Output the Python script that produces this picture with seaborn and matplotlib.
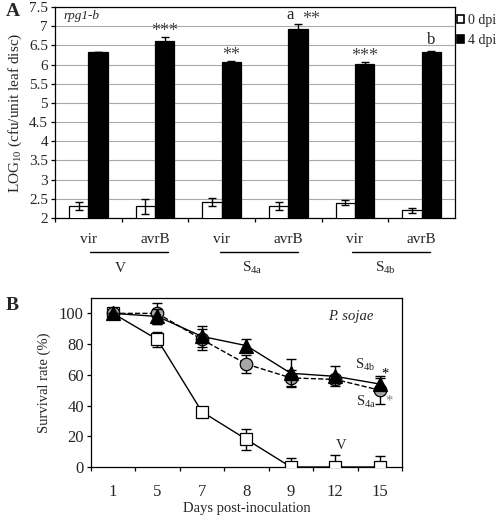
import numpy as np
import pandas as pd
import matplotlib
matplotlib.use('Agg')
import matplotlib.pyplot as plt
import matplotlib.transforms as mtrans
from matplotlib.patches import Patch
from matplotlib.ticker import FixedLocator, FuncFormatter, NullFormatter, FixedFormatter
import seaborn as sns

# ---------------- data ----------------
strains = ['vir', 'avrB', 'vir', 'avrB', 'vir', 'avrB']
cat_ids = ['V-vir', 'V-avrB', 'S4a-vir', 'S4a-avrB', 'S4b-vir', 'S4b-avrB']
groups = ['V', r'S$_{\mathrm{4a}}$', r'S$_{\mathrm{4b}}$']
dpi0 = [2.31, 2.30, 2.41, 2.31, 2.40, 2.20]
dpi0_err = [0.10, 0.20, 0.10, 0.10, 0.06, 0.06]
dpi4 = [6.33, 6.61, 6.06, 6.93, 6.02, 6.32]
dpi4_err = [0.01, 0.10, 0.02, 0.12, 0.05, 0.04]
stars4 = ['', '***', '**', '**', '***', '']
letters4 = ['', '', '', 'a', '', 'b']

days = ['1', '5', '7', '8', '9', '12', '15']
surv_V = [100, 83, 36, 18, 0, 0, 0]
err_V = [0, 5, 0, 7, 6, 8, 7]
surv_S4a = [100, 100, 83, 67, 58, 57, 50]
err_S4a = [0, 7, 7, 6, 5, 3, 9]
surv_S4b = [100, 98, 85, 79, 61, 59, 54]
err_S4b = [0, 5, 7, 4, 9, 6.5, 4]

# ---------------- style ----------------
sns.set_theme(style='white')
plt.rcParams['font.family'] = ['Liberation Serif', 'DejaVu Serif']
plt.rcParams['mathtext.fontset'] = 'custom'
plt.rcParams['mathtext.rm'] = 'Liberation Serif'
plt.rcParams['mathtext.it'] = 'Liberation Serif:italic'
plt.rcParams['axes.edgecolor'] = 'black'
plt.rcParams['axes.linewidth'] = 0.9

fig = plt.figure(figsize=(4.98, 5.20), dpi=100)
W, H = 498, 520

def px_axes(l, t, r, b):
    return fig.add_axes([l / W, 1 - b / H, (r - l) / W, (b - t) / H])

fsA = 11
fsB = 12

# ================= Panel A =================
axA = px_axes(55, 7, 455, 218)
dfA = pd.DataFrame({
    'cat': cat_ids * 2,
    'val': dpi0 + dpi4,
    'dpi': ['0 dpi'] * 6 + ['4 dpi'] * 6,
})
sns.barplot(data=dfA, x='cat', y='val', hue='dpi', order=cat_ids,
            hue_order=['0 dpi', '4 dpi'], palette=['white', 'black'],
            edgecolor='black', linewidth=0.9, width=0.58, errorbar=None,
            legend=False, ax=axA, zorder=3)

for cont, err in zip(axA.containers, [dpi0_err, dpi4_err]):
    xs = [p.get_x() + p.get_width() / 2 for p in cont.patches]
    hs = [p.get_height() for p in cont.patches]
    axA.errorbar(xs, hs, yerr=err, fmt='none', ecolor='black',
                 elinewidth=1.0, capsize=3, capthick=1.0, zorder=4)

axA.set_ylim(2, 7.5)
axA.set_xlim(-0.5, 5.5)
axA.set_yticks(np.arange(2, 7.51, 0.5))
axA.yaxis.set_major_formatter(FuncFormatter(lambda v, p: '%g' % v))
axA.yaxis.grid(True, color='#a8a8a8', linewidth=0.8)
axA.set_axisbelow(True)
axA.xaxis.set_major_locator(FixedLocator(np.arange(-0.5, 5.0, 1.0)))
axA.xaxis.set_major_formatter(NullFormatter())
axA.xaxis.set_minor_locator(FixedLocator(np.arange(0, 6)))
axA.xaxis.set_minor_formatter(FixedFormatter(strains))
axA.tick_params(axis='x', which='major', direction='out', length=3, width=0.9,
                bottom=True, color='black')
axA.tick_params(axis='x', which='minor', length=0, pad=11, labelsize=fsA)
axA.tick_params(axis='y', direction='out', length=3, width=0.9, pad=2,
                labelsize=fsA, left=True, color='black')
axA.set_xlabel('')
axA.set_ylabel(r'LOG$_{\mathrm{10}}$ (cfu/unit leaf disc)', fontsize=fsA, labelpad=4)
for s in axA.spines.values():
    s.set_visible(True)
    s.set_color('black')

# annotations above 4 dpi bars
c4 = axA.containers[1]
star_col = '#444444'
for p, st, lt, e in zip(c4.patches, stars4, letters4, dpi4_err):
    xc = p.get_x() + p.get_width() / 2
    top = p.get_height() + e
    if st and not lt:
        axA.text(xc, top + 0.03, st, ha='center', va='baseline', fontsize=13,
                 color=star_col)
    if lt and st:
        axA.text(xc - 0.12, top + 0.14, lt, ha='center', va='baseline', fontsize=12)
        axA.text(xc + 0.2, top + 0.0, st, ha='center', va='baseline', fontsize=13,
                 color=star_col)
    elif lt:
        axA.text(xc, top + 0.18, lt, ha='center', va='baseline', fontsize=12)

axA.text(-0.38, 7.27, 'rpg1-b', fontsize=9.5, style='italic', ha='left', va='center')

# group underlines and labels
trA = mtrans.blended_transform_factory(axA.transData, axA.transAxes)
lines = [(0.025, 1.195), (1.975, 3.145), (3.955, 5.125)]
label_x = [0.476, 2.458, 4.455]
for (x0, x1), lx, g in zip(lines, label_x, groups):
    axA.plot([x0, x1], [-0.160, -0.160], color='black', lw=1.0,
             transform=trA, clip_on=False)
    axA.text(lx, -0.237, g, transform=trA, ha='center', va='center', fontsize=fsA)

handles = [Patch(facecolor='white', edgecolor='black', linewidth=1.2, label='0 dpi'),
           Patch(facecolor='black', edgecolor='black', linewidth=1.2, label='4 dpi')]
axA.legend(handles=handles, loc='upper left', bbox_to_anchor=(1.0, 0.975),
           frameon=False, fontsize=10, handlelength=0.5, handleheight=0.5,
           handletextpad=0.25, labelspacing=0.45, borderaxespad=0.0,
           borderpad=0.15)

fig.text(6 / W, 1 - 12 / H, 'A', fontsize=14, fontweight='bold', ha='left', va='center')

# ================= Panel B =================
axB = px_axes(90.7, 298, 402, 467)
pos = np.arange(len(days))
dfB = pd.DataFrame({
    'pos': np.concatenate([pos, pos, pos]),
    'surv': surv_V + surv_S4a + surv_S4b,
    'line': ['V'] * 7 + ['S4a'] * 7 + ['S4b'] * 7,
})

series = [
    ('V', err_V, 's', 'white', '-', 3),
    ('S4a', err_S4a, 'o', '#a6a6a6', '--', 4),
    ('S4b', err_S4b, '^', 'black', '-', 5),
]
for name, errs, mk, fc, ls, z in series:
    sub = dfB[dfB['line'] == name]
    axB.errorbar(sub['pos'], sub['surv'], yerr=errs, fmt='none', ecolor='black',
                 elinewidth=1.0, capsize=3.5, capthick=1.0, zorder=z)
    sns.lineplot(data=sub, x='pos', y='surv', ax=axB, color='black', lw=1.0,
                 linestyle=ls, marker=mk, markersize=9 if mk != '^' else 9.5,
                 markerfacecolor=fc, markeredgecolor='black', markeredgewidth=0.9,
                 zorder=z + 0.5, legend=False)

axB.set_xlim(-0.5, 6.5)
axB.set_ylim(0, 110)
axB.set_yticks(np.arange(0, 101, 20))
axB.xaxis.set_major_locator(FixedLocator(np.arange(-0.5, 6.6, 1.0)))
axB.xaxis.set_major_formatter(NullFormatter())
axB.xaxis.set_minor_locator(FixedLocator(pos))
axB.xaxis.set_minor_formatter(FixedFormatter(days))
axB.tick_params(axis='x', which='major', direction='out', length=3, width=0.9,
                bottom=True, color='black')
axB.tick_params(axis='x', which='minor', length=0, pad=12, labelsize=fsB)
axB.tick_params(axis='y', direction='out', length=3, width=0.9, left=True,
                color='black', labelsize=fsB, pad=2)
axB.set_xlabel('Days post-inoculation', fontsize=10.5, labelpad=2)
axB.set_ylabel('Survival rate (%)', fontsize=10.5, labelpad=6)
for s in axB.spines.values():
    s.set_visible(True)
    s.set_color('black')

axB.text(5.34, 97.8, 'P. sojae', fontsize=10.5, style='italic', ha='center', va='center')
axB.text(5.67, 66.4, r'S$_{\mathrm{4b}}$', fontsize=10.5, ha='center', va='center')
axB.text(6.12, 60.5, '*', fontsize=10.5, ha='center', va='center', color='black')
axB.text(5.69, 42.5, r'S$_{\mathrm{4a}}$', fontsize=10.5, ha='center', va='center')
axB.text(6.21, 43.0, '*', fontsize=10.5, ha='center', va='center', color='#808080')
axB.text(5.14, 14.3, 'V', fontsize=10.5, ha='center', va='center')

fig.text(6 / W, 1 - 305 / H, 'B', fontsize=14, fontweight='bold', ha='left', va='center')

fig.savefig('out.png', dpi=100)
